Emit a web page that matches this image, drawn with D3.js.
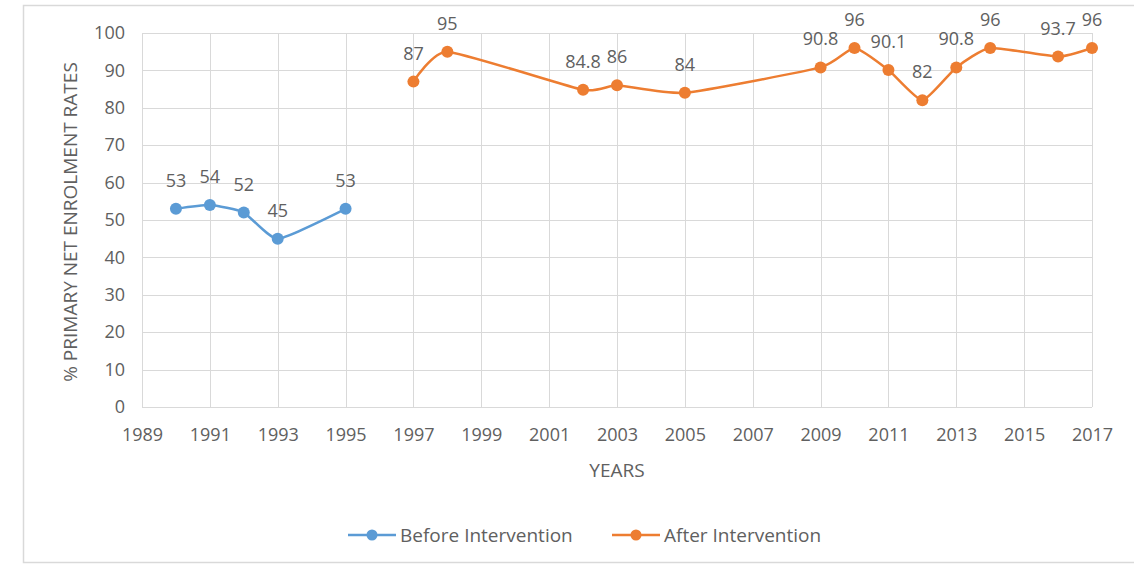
<!DOCTYPE html>
<html><head><meta charset="utf-8">
<script src="https://cdn.jsdelivr.net/npm/d3@7"></script>
<style>html,body{margin:0;padding:0;background:#fff;}svg{display:block;}</style>
</head><body>
<svg id="chart" width="1134" height="567"></svg>
<script>
const beforeYears = [1990, 1991, 1992, 1993, 1995];
const beforeValues = [53, 54, 52, 45, 53];
const beforeLabels = ["53", "54", "52", "45", "53"];
const afterYears = [1997, 1998, 2002, 2003, 2005, 2009, 2010, 2011, 2012, 2013, 2014, 2016, 2017];
const afterValues = [87, 95, 84.8, 86, 84, 90.8, 96, 90.1, 82, 90.8, 96, 93.7, 96];
const afterLabels = ["87", "95", "84.8", "86", "84", "90.8", "96", "90.1", "82", "90.8", "96", "93.7", "96"];
const xTicks = [1989, 1991, 1993, 1995, 1997, 1999, 2001, 2003, 2005, 2007, 2009, 2011, 2013, 2015, 2017];
const yTicks = [0, 10, 20, 30, 40, 50, 60, 70, 80, 90, 100];
const seriesNames = ["Before Intervention", "After Intervention"];
const colors = ["#5b9bd5", "#ed7d31"];

const svg = d3.select("#chart");
const font = "'Open Sans', sans-serif";
const textColor = "#606060";

svg.append("rect").attr("x", 23.5).attr("y", 5.5).attr("width", 1130).attr("height", 557)
  .attr("fill", "#fff").attr("stroke", "#d9d9d9").attr("stroke-width", 1.5);

const x = d3.scaleLinear().domain([1989, 2017]).range([142, 1092]);
const y = d3.scaleLinear().domain([0, 100]).range([407, 33]);

// gridlines
svg.append("g").selectAll("line").data(yTicks).join("line")
  .attr("x1", x(1989)).attr("x2", x(2017))
  .attr("y1", d => Math.round(y(d)) + 0.5).attr("y2", d => Math.round(y(d)) + 0.5)
  .attr("stroke", "#d9d9d9").attr("stroke-width", 1);
svg.append("g").selectAll("line").data(xTicks).join("line")
  .attr("x1", d => Math.round(x(d)) + 0.5).attr("x2", d => Math.round(x(d)) + 0.5)
  .attr("y1", y(0)).attr("y2", y(100))
  .attr("stroke", "#d9d9d9").attr("stroke-width", 1);

// axes (labels only)
const xAxis = d3.axisBottom(x).tickValues(xTicks).tickFormat(d3.format("d")).tickSize(0).tickPadding(21);
const gx = svg.append("g").attr("transform", `translate(0,${y(0)})`).call(xAxis);
gx.select(".domain").remove();
gx.selectAll("text").attr("font-family", font).attr("font-size", 18).attr("fill", textColor);

const yAxis = d3.axisLeft(y).tickValues(yTicks).tickSize(0).tickPadding(17);
const gy = svg.append("g").attr("transform", `translate(${x(1989)},0)`).call(yAxis);
gy.select(".domain").remove();
gy.selectAll("text").attr("font-family", font).attr("font-size", 18).attr("fill", textColor);

// axis titles
svg.append("text").attr("x", 617).attr("y", 477).attr("text-anchor", "middle")
  .attr("font-family", font).attr("font-size", 19).attr("fill", textColor).text("YEARS");
svg.append("text").attr("transform", `translate(77,${(y(0)+y(100))/2 + 2}) rotate(-90)`)
  .attr("text-anchor", "middle").attr("font-family", font).attr("font-size", 19)
  .attr("fill", textColor).text("% PRIMARY NET ENROLMENT RATES");

const line = d3.line().x(d => x(d[0])).y(d => y(d[1])).curve(d3.curveCardinal.tension(0.5));

const series = [
  {years: beforeYears, values: beforeValues, labels: beforeLabels, color: colors[0]},
  {years: afterYears, values: afterValues, labels: afterLabels, color: colors[1]}
];

series.forEach(s => {
  const pts = s.years.map((yr, i) => [yr, s.values[i], s.labels[i]]);
  svg.append("path").datum(pts).attr("d", line).attr("fill", "none")
    .attr("stroke", s.color).attr("stroke-width", 2.5);
  svg.append("g").selectAll("circle").data(pts).join("circle")
    .attr("cx", d => x(d[0])).attr("cy", d => y(d[1])).attr("r", 6).attr("fill", s.color);
  svg.append("g").selectAll("text").data(pts).join("text")
    .attr("x", d => x(d[0])).attr("y", d => y(d[1]) - 22).attr("text-anchor", "middle")
    .attr("font-family", font).attr("font-size", 18).attr("fill", textColor)
    .text(d => d[2]);
});

// legend
const legendItems = [
  {name: seriesNames[0], color: colors[0], x0: 348},
  {name: seriesNames[1], color: colors[1], x0: 612}
];
const lg = svg.append("g");
legendItems.forEach(it => {
  lg.append("line").attr("x1", it.x0).attr("x2", it.x0 + 48).attr("y1", 535).attr("y2", 535)
    .attr("stroke", it.color).attr("stroke-width", 2.5);
  lg.append("circle").attr("cx", it.x0 + 24).attr("cy", 535).attr("r", 5.5).attr("fill", it.color);
  lg.append("text").attr("x", it.x0 + 52).attr("y", 542).attr("font-family", font).attr("font-size", 19)
    .attr("fill", textColor).text(it.name);
});
</script>
</body></html>
